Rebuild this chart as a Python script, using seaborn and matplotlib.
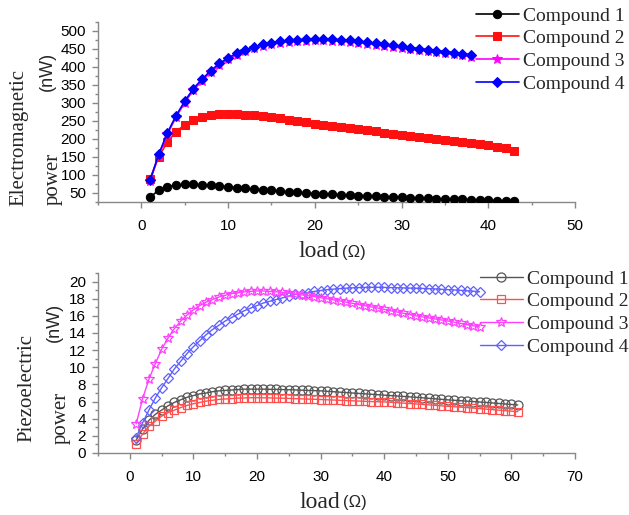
import numpy as np
import pandas as pd
import matplotlib
matplotlib.use("Agg")
import matplotlib.pyplot as plt
from matplotlib.ticker import MultipleLocator
import seaborn as sns

# ---------------- data ----------------
labels = ["Compound 1", "Compound 2", "Compound 3", "Compound 4"]

em_x12 = list(range(1, 44))
em_x34 = list(range(1, 39))
em_c1 = [38, 58, 68, 72, 74, 74, 73, 71, 69, 67, 65, 63, 61, 59, 57, 55, 53, 52, 50, 48,
         47, 46, 45, 44, 43, 42, 41, 40, 39, 38, 37, 36, 35, 34, 33, 33, 32, 31, 30, 30,
         29, 29, 28]
em_c2 = [90, 150, 192, 220, 240, 254, 262, 266, 269, 270, 270, 268, 266, 263, 260, 257, 254,
         250, 246, 243, 240, 237, 234, 231, 228, 225, 222, 218, 215, 212, 209, 206, 203, 200,
         197, 194, 191, 188, 185, 182, 178, 174, 168]
em_c3 = [83, 154, 213, 261, 301, 336, 362, 386, 406, 421, 434, 444, 452, 459, 463, 467, 470,
         472, 473, 474, 474, 473, 472, 470, 468, 465, 462, 459, 456, 453, 450, 447, 444, 441,
         438, 436, 433, 429]
em_c4 = [85, 158, 217, 265, 305, 340, 366, 390, 410, 425, 438, 448, 456, 463, 467, 471, 474,
         476, 477, 478, 478, 477, 476, 474, 472, 469, 466, 463, 460, 457, 454, 451, 448, 445,
         442, 440, 437, 433]

pz_x12 = list(range(1, 62))
pz_x34 = list(range(1, 56))
pz_c1 = [1.5, 2.8, 3.8, 4.5, 5.0, 5.5, 5.9, 6.2, 6.5, 6.7, 6.9, 7.0, 7.15, 7.25, 7.3, 7.35,
         7.4, 7.45, 7.45, 7.45, 7.45, 7.43, 7.42, 7.4, 7.38, 7.36, 7.33, 7.3, 7.28, 7.25,
         7.2, 7.15, 7.1, 7.05, 7.0, 6.95, 6.9, 6.85, 6.8, 6.75, 6.7, 6.65, 6.6, 6.55, 6.5,
         6.44, 6.38, 6.32, 6.26, 6.2, 6.15, 6.1, 6.05, 6.0, 5.95, 5.9, 5.84, 5.78, 5.72,
         5.66, 5.6]
pz_c2 = [1.1, 2.2, 3.1, 3.7, 4.3, 4.7, 5.0, 5.3, 5.55, 5.75, 5.9, 6.05, 6.15, 6.25, 6.3,
         6.35, 6.4, 6.42, 6.45, 6.45, 6.44, 6.43, 6.41, 6.39, 6.37, 6.34, 6.32, 6.29, 6.27,
         6.24, 6.21, 6.18, 6.15, 6.12, 6.09, 6.06, 6.03, 6.0, 5.98, 5.96, 5.92, 5.87, 5.82,
         5.77, 5.72, 5.67, 5.62, 5.56, 5.5, 5.45, 5.4, 5.35, 5.3, 5.24, 5.18, 5.12, 5.06,
         5.0, 4.94, 4.88, 4.82]
pz_c3 = [3.4, 6.3, 8.6, 10.4, 12.1, 13.4, 14.5, 15.4, 16.1, 16.7, 17.2, 17.6, 17.9, 18.2,
         18.4, 18.6, 18.7, 18.8, 18.85, 18.9, 18.9, 18.85, 18.8, 18.75, 18.65, 18.55, 18.45,
         18.35, 18.25, 18.12, 18.0, 17.87, 17.74, 17.6, 17.46, 17.32, 17.18, 17.04, 16.9,
         16.75, 16.6, 16.45, 16.3, 16.15, 16.0, 15.88, 15.76, 15.64, 15.52, 15.4, 15.26,
         15.12, 14.98, 14.84, 14.7]
pz_c4 = [1.8, 3.5, 5.0, 6.4, 7.6, 8.7, 9.8, 10.7, 11.6, 12.4, 13.1, 13.8, 14.4, 14.9, 15.4,
         15.8, 16.2, 16.6, 16.9, 17.2, 17.5, 17.7, 17.9, 18.1, 18.3, 18.5, 18.6, 18.7, 18.85,
         18.95, 19.05, 19.12, 19.18, 19.23, 19.27, 19.3, 19.32, 19.33, 19.33, 19.32, 19.3,
         19.28, 19.26, 19.24, 19.22, 19.2, 19.17, 19.14, 19.1, 19.06, 19.02, 18.98, 18.93,
         18.88, 18.82]

# ---------------- style ----------------
sns.set_style("white")
plt.rcParams["font.family"] = ["Liberation Sans", "DejaVu Sans"]
SERIF = ["Liberation Serif", "DejaVu Serif"]
SANS = ["Liberation Sans", "DejaVu Sans"]

fig = plt.figure(figsize=(6.29, 5.15), dpi=100)
ax1 = fig.add_axes([98 / 629, 1 - 202 / 515, (575 - 98) / 629, (202 - 22) / 515])
ax2 = fig.add_axes([98 / 629, 1 - 453 / 515, (575 - 98) / 629, (453 - 273) / 515])

top_cols = ["#000000", "#ff1010", "#ff00ff", "#0000ff"]
top_mk = ["o", "s", "*", "D"]
top_ms = [6, 5.5, 7, 5.5]
em_xs = [em_x12, em_x12, em_x34, em_x34]
em_ys = [em_c1, em_c2, em_c3, em_c4]
for i in range(4):
    sns.lineplot(x=em_xs[i], y=em_ys[i], ax=ax1, color=top_cols[i], marker=top_mk[i],
                 markersize=top_ms[i], markeredgecolor=top_cols[i], linewidth=1.2,
                 label=labels[i], zorder=3 + i)

bot_cols = ["#555555", "#ff5050", "#ff40ff", "#6060ff"]
bot_mk = ["o", "s", "*", "D"]
bot_ms = [6.5, 6, 7.5, 5.5]
pz_xs = [pz_x12, pz_x12, pz_x34, pz_x34]
pz_ys = [pz_c1, pz_c2, pz_c3, pz_c4]
order = [0, 1, 3, 2]
for i in range(4):
    sns.lineplot(x=pz_xs[i], y=pz_ys[i], ax=ax2, color=bot_cols[i], marker=bot_mk[i],
                 markersize=bot_ms[i], markerfacecolor="none", markeredgecolor=bot_cols[i],
                 markeredgewidth=0.9, linewidth=1.0, label=labels[i], zorder=3 + order[i])

for ax in (ax1, ax2):
    for s in ("top", "right"):
        ax.spines[s].set_visible(False)
    for s in ("left", "bottom"):
        ax.spines[s].set_color("#888888")
        ax.spines[s].set_linewidth(1.0)
    ax.tick_params(which="major", direction="out", length=4.5, width=1, color="#888888",
                   labelsize=11, labelcolor="black", pad=4, left=True, bottom=True)
    ax.tick_params(which="minor", direction="out", length=2.5, width=1, color="#888888",
                   left=True, bottom=True)
    ax.set_xlabel("")
    ax.set_ylabel("")

ax1.set_xlim(-5, 50)
ax1.set_ylim(25, 525)
ax1.xaxis.set_major_locator(MultipleLocator(10))
ax1.xaxis.set_minor_locator(MultipleLocator(5))
ax1.yaxis.set_minor_locator(MultipleLocator(25))
ax1.set_yticks(list(range(50, 501, 50)))
ax1.tick_params(axis="x", pad=8)

ax2.set_xlim(-5, 70)
ax2.set_ylim(0, 21)
ax2.xaxis.set_major_locator(MultipleLocator(10))
ax2.xaxis.set_minor_locator(MultipleLocator(5))
ax2.yaxis.set_minor_locator(MultipleLocator(1))
ax2.set_yticks(list(range(0, 21, 2)))
ax2.tick_params(axis="x", pad=8)

leg_kw = dict(frameon=False, prop={"family": SERIF, "size": 14}, handlelength=2.2,
              handletextpad=0.2, labelspacing=0.26, borderaxespad=0, borderpad=0)
ax1.legend(loc="upper left", bbox_to_anchor=(476 / 629, 1 - 7 / 515),
           bbox_transform=fig.transFigure, **leg_kw)
ax2.legend(loc="upper left", bbox_to_anchor=(480 / 629, 1 - 270 / 515),
           bbox_transform=fig.transFigure, **leg_kw)


def ft(x, y, s, size, rot=0, ha="center", va="center", family=SERIF):
    fig.text(x / 629, 1 - y / 515, s, fontsize=size, rotation=rot, ha=ha, va=va,
             family=family)


# y-labels
ft(19, 138, "Electromagnetic", 15, rot=90)
ft(53, 179, "power", 15, rot=90)
ft(47, 71, "(nW)", 13, rot=90, family=SANS)
ft(27, 388, "Piezoelectric", 15, rot=90)
ft(61, 418, "power", 15, rot=90)
ft(54, 322, "(nW)", 13, rot=90, family=SANS)

# x-labels
ft(339, 257, "load", 17, ha="right", va="baseline")
ft(342, 257, "(Ω)", 12, ha="left", va="baseline", family=SANS)
ft(340, 508, "load", 17, ha="right", va="baseline")
ft(343, 507, "(Ω)", 12, ha="left", va="baseline", family=SANS)

fig.savefig("out.png", dpi=100, facecolor="white")
